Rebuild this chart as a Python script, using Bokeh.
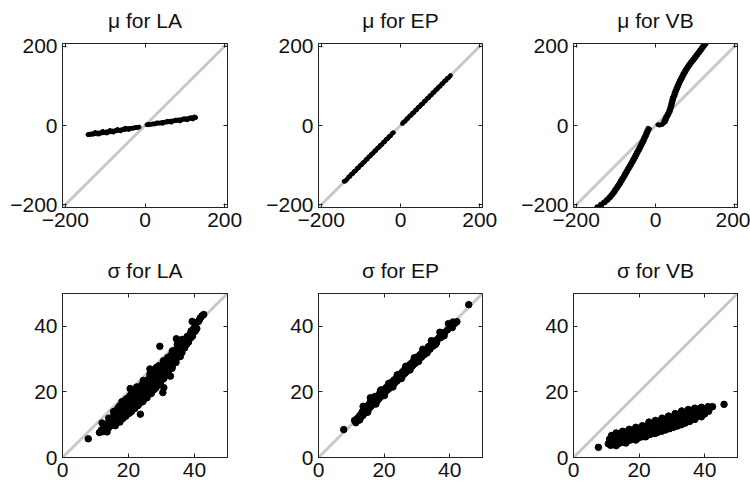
from bokeh.plotting import figure
from bokeh.layouts import gridplot
from bokeh.models import FixedTicker, LinearAxis, Range1d, Slope
from bokeh.embed import file_html
from bokeh.resources import INLINE

# ---- tick positions -------------------------------------------------------
mu_ticks = [-200, 0, 200]
sigma_ticks = [0, 20, 40]

# ---- mu, method LA: true mean vs. estimated mean --------------------------
mu_true_la = [-143, -140, -137, -133, -130, -126, -122, -118, -115, -111, -108, -104, -101, -97, -93, -90, -86,
              -82, -78, -75, -71, -67, -63, -59, -55, -51, -47, -43, -39, -35, -31, -27, -23, -19, -15,
              -125, -116, -106, -96, -88, -79, -69, -61, -50, -41,
              5, 8, 12, 16, 20, 24, 28, 33, 37, 41, 45, 49, 53, 57, 61, 65, 69, 73, 77, 81, 85, 89, 93, 97,
              101, 105, 109, 113, 117, 121, 125, 127,
              30, 44, 56, 66, 78, 88, 98, 106, 114, 120, 124]
mu_est_la = [-23, -22, -23, -21, -22, -20, -21, -19, -20, -18, -19, -17, -18, -16, -17, -15, -16,
             -14, -15, -13, -13, -12, -12, -11, -10, -10, -9, -8, -8, -7, -7, -6, -5, -5, -4,
             -17.5, -21.5, -15, -19, -12.5, -16.5, -10, -13.5, -7, -10,
             2, 2, 3, 3, 4, 4, 5, 6, 6, 7, 8, 8, 9, 9, 10, 11, 11, 12, 13, 13, 14, 14, 15, 16,
             16, 17, 17, 18, 19, 19, 20, 20,
             6.5, 5.5, 10.5, 8.5, 13.5, 11.5, 17, 14.5, 19.5, 16.5, 21.5]

# ---- mu, method EP ---------------------------------------------------------
mu_true_ep = [-142, -139, -135, -131, -128, -124, -120, -117, -113, -109, -106, -102, -98, -95, -91, -87, -84,
              -80, -76, -73, -69, -65, -62, -58, -54, -51, -47, -43, -40, -36, -32, -29, -25, -21, -18,
              5, 8, 12, 16, 19, 23, 27, 30, 34, 38, 41, 45, 49, 52, 56, 60, 63, 67, 71, 74, 78, 82, 85, 89,
              93, 96, 100, 104, 107, 111, 115, 118, 122, 126]
mu_est_ep = [-141, -140, -136, -130, -129, -123, -121, -116, -114, -108, -107, -101, -99, -94, -92, -86, -85,
             -79, -77, -72, -70, -64, -63, -57, -55, -50, -48, -42, -41, -35, -33, -28, -26, -20, -18,
             5, 9, 11, 17, 18, 24, 26, 31, 33, 39, 40, 46, 48, 53, 55, 61, 62, 68, 70, 75, 77, 83, 84, 90,
             92, 97, 99, 105, 106, 112, 114, 119, 121, 126]

# ---- mu, method VB ---------------------------------------------------------
mu_true_vb = [-148, -144, -139, -135, -131, -127, -124, -120, -118, -114, -113, -109, -108, -104, -104, -100,
              -100, -96, -96, -92, -92, -88, -88.5, -84.5, -85, -81, -81, -77, -78, -74, -74.5, -70.5,
              -71, -67, -67.5, -63.5, -64, -60, -60.5, -56.5, -57.5, -53.5, -54, -50, -51, -47, -48, -44,
              -44.5, -40.5, -41.5, -37.5, -38.5, -34.5, -35.5, -31.5, -32.5, -28.5, -30, -26, -27, -23,
              -24.5, -20.5, -22, -18, -19, -15,
              6, 10, 14, 18, 21,
              21, 25, 23.5, 27.5, 26, 30, 29.5, 33.5, 32.5, 36.5, 34.5, 38.5, 36.5, 40.5, 38, 42, 39.5, 43.5,
              41, 45, 42.5, 46.5, 45.5, 49.5, 47, 51, 49.5, 53.5, 52, 56, 54.5, 58.5, 57, 61, 60, 64,
              63, 67, 66, 70, 69, 73, 72.5, 76.5, 76, 80, 80, 84, 84, 88, 88.5, 92.5, 93.5, 97.5,
              98, 102, 102.5, 106.5, 107, 111, 111.5, 115.5, 116, 120, 120, 124, 124, 128]
mu_est_vb = [-205, -207, -199, -201, -193, -195, -187, -189, -181, -183, -175, -177, -169, -171, -163, -165,
             -157, -159, -151, -153, -145, -147, -139, -141, -133, -135, -127, -129, -121, -123, -115, -117,
             -109, -111, -103, -105, -97, -99, -91, -93, -85, -87, -79, -81, -73, -75, -67, -69, -61, -63,
             -55, -57, -49, -51, -43, -45, -37, -39, -31, -33, -25, -27, -19, -21, -13, -15, -7, -9,
             2, 1, 2, 3, 7,
             11, 9, 17, 15, 23, 21, 29, 27, 35, 33, 41, 39, 47, 45, 53, 51, 59, 57, 65, 63, 71, 69,
             77, 75, 83, 81, 89, 87, 95, 93, 101, 99, 107, 105, 113, 111, 119, 117, 125, 123, 131, 129,
             137, 135, 143, 141, 149, 147, 155, 153, 161, 159, 167, 165, 173, 171, 179, 177, 185, 183,
             191, 189, 197, 195, 203, 201, 208, 206]

# ---- sigma, method LA: true spread vs. estimated spread -------------------
sigma_true_la = [11.2, 11.8, 12.3, 12.6, 13.1, 13.4, 13.9, 14.2, 14.5, 14.8, 15.1, 15.3, 15.6, 15.9, 16.2,
                 16.4, 16.7, 16.9, 17.2, 17.4, 17.6, 17.9, 18.1, 18.3, 18.6, 18.8, 19.0, 19.2, 19.5, 19.7,
                 19.9, 20.1, 20.3, 20.5, 20.8, 21.0, 21.2, 21.4, 21.7, 21.9, 22.1, 22.3, 22.6, 22.8, 23.0,
                 23.3, 23.5, 23.7, 24.0, 24.2, 24.5, 24.7, 24.9, 25.2, 25.4, 25.6, 25.9, 26.1, 26.4, 26.6,
                 26.8, 27.1, 27.3, 27.6, 27.8, 28.0, 28.3, 28.6, 28.8, 29.1, 29.4, 29.7, 29.9, 30.2, 30.5,
                 30.8, 31.1, 31.4, 31.7, 32.0, 32.3, 32.6, 32.9, 33.2, 33.5, 33.8, 34.1, 34.4, 34.7, 35.0,
                 35.3, 35.7, 36.0, 36.3, 36.7, 37.0, 37.4, 37.8, 38.2, 38.6, 39.0, 39.4, 39.8, 40.3, 40.7,
                 41.2, 41.8, 42.3, 42.8,
                 7.8, 29.5, 32.7, 30.7, 30.4, 23.6, 39.3, 41.5, 34.5, 26.5, 20.5, 12.0, 13.5, 16.0,
                 17.0, 18.0, 19.0, 20.0, 21.0, 22.0, 23.0, 24.0, 25.0, 26.0, 18.5, 20.5, 22.5, 24.5, 26.5, 28.5,
                 14.0, 14.0, 15.5, 15.5, 15.5, 16.8, 16.8, 16.8, 18.0, 18.0, 18.0, 18.0,
                 19.3, 19.3, 19.3, 19.3, 20.6, 20.6, 20.6, 20.6, 21.8, 21.8, 21.8, 21.8,
                 23.1, 23.1, 23.1, 23.1, 24.3, 24.3, 24.3, 24.3, 25.6, 25.6, 25.6, 25.6,
                 26.9, 26.9, 26.9, 26.9, 28.1, 28.1, 28.1, 28.1, 29.3, 29.3, 29.3, 29.3,
                 30.6, 30.6, 30.6, 30.6, 31.9, 31.9, 31.9, 33.3, 33.3, 33.3, 34.8, 34.8, 34.8,
                 36.2, 36.2, 36.2, 37.6, 37.6, 38.9, 38.9, 40.2, 40.2]
sigma_est_la = [7.6, 8.4, 7.9, 9.1, 8.3, 10.2, 9.0, 11.1, 9.6, 12.0, 10.3, 11.5, 13.0, 10.1, 12.4,
                14.3, 11.2, 13.5, 15.6, 10.8, 12.6, 14.6, 16.4, 11.9, 13.8, 15.5, 17.4, 12.6, 14.5, 16.6,
                18.2, 13.4, 15.3, 17.3, 19.1, 14.2, 16.1, 18.0, 19.9, 15.0, 17.0, 18.8, 20.6, 15.8, 17.8,
                19.7, 21.6, 16.9, 18.6, 20.5, 22.4, 17.7, 19.5, 21.3, 23.3, 18.6, 20.4, 22.3, 24.4, 19.6,
                21.4, 23.2, 25.3, 20.6, 22.4, 24.2, 26.1, 21.7, 23.5, 25.4, 27.4, 22.9, 24.8, 26.6, 28.6,
                24.3, 26.1, 28.0, 29.8, 25.6, 27.5, 29.4, 31.2, 27.2, 29.1, 31.0, 32.6, 29.0, 30.9, 32.8,
                34.3, 30.8, 32.7, 34.6, 35.9, 33.4, 35.3, 36.9, 35.2, 37.4, 38.6, 37.0, 39.4, 40.6, 39.3,
                41.5, 42.6, 43.2, 43.6,
                5.7, 33.9, 24.8, 21.3, 19.8, 13.2, 41.5, 42.0, 36.2, 27.0, 21.0, 10.5, 7.8, 9.7,
                12.0, 13.0, 15.5, 16.0, 17.5, 19.5, 20.5, 21.5, 22.0, 23.5, 17.0, 18.5, 21.5, 23.5, 25.5, 27.5,
                10.5, 12.0, 11.0, 12.5, 14.0, 11.5, 13.0, 15.0, 12.0, 14.0, 15.5, 17.0,
                13.0, 14.8, 16.2, 17.8, 13.8, 15.8, 17.0, 19.0, 15.0, 16.8, 18.5, 20.0,
                16.2, 17.5, 19.0, 21.0, 17.0, 19.0, 20.0, 22.5, 18.2, 19.8, 21.8, 23.0,
                19.5, 21.0, 22.8, 24.8, 21.0, 22.8, 25.0, 26.5, 22.5, 24.0, 26.0, 28.0,
                24.0, 25.5, 27.8, 29.5, 26.0, 28.5, 30.5, 28.0, 30.0, 32.5, 30.5, 33.0, 34.5,
                32.0, 34.0, 36.0, 34.5, 36.0, 36.5, 38.0, 38.5, 41.0]

# ---- sigma, method EP ------------------------------------------------------
sigma_true_ep = [7.7, 11.0, 11.4, 11.8, 12.2, 12.6, 12.9, 13.3, 13.6, 14.0, 14.3, 14.6, 14.9, 15.2, 15.5,
                 15.8, 16.1, 16.4, 16.7, 17.0, 17.3, 17.6, 17.9, 18.2, 18.5, 18.8, 19.1, 19.4, 19.7, 20.0,
                 20.3, 20.6, 20.9, 21.2, 21.5, 21.8, 22.1, 22.4, 22.7, 23.0, 23.3, 23.6, 23.9, 24.2, 24.5,
                 24.8, 25.1, 25.4, 25.7, 26.0, 26.3, 26.6, 26.9, 27.2, 27.5, 27.8, 28.1, 28.4, 28.7, 29.0,
                 29.3, 29.6, 29.9, 30.2, 30.6, 31.0, 31.4, 31.8, 32.2, 32.6, 33.0, 33.5, 34.0, 34.5, 35.0,
                 35.5, 36.0, 36.6, 37.2, 37.8, 38.5, 39.3, 40.2, 41.0, 41.6, 42.2, 45.8,
                 15.8, 13.6, 17.2, 19.0,
                 12.5, 13.8, 15.0, 16.3, 17.5, 18.8, 20.1, 21.4, 22.7, 24.0, 25.3, 26.6, 27.9, 29.2,
                 30.5, 31.8, 33.1, 34.4, 35.7, 37.0, 38.3, 39.6, 40.8]
sigma_est_ep = [8.5, 11.3, 10.6, 11.9, 11.5, 12.8, 12.2, 13.9, 12.9, 14.6, 13.8, 15.6, 14.4, 15.9, 15.0,
                17.0, 15.7, 16.9, 16.3, 17.6, 16.8, 18.2, 17.3, 18.9, 18.0, 19.4, 18.6, 20.3, 19.3, 20.8,
                19.9, 21.3, 20.5, 21.9, 21.0, 22.4, 21.6, 23.0, 22.1, 23.6, 22.8, 24.1, 23.3, 24.8, 23.9,
                25.3, 24.5, 25.9, 25.1, 26.5, 25.6, 27.1, 26.2, 27.6, 26.8, 28.3, 27.4, 28.8, 28.0, 29.5,
                28.6, 30.0, 29.1, 30.7, 29.8, 31.4, 30.6, 32.2, 31.3, 32.9, 32.2, 33.8, 33.0, 34.7, 34.0,
                35.6, 35.0, 36.4, 36.5, 37.6, 38.2, 38.9, 40.0, 41.3, 40.9, 41.4, 46.6,
                18.2, 15.6, 18.6, 20.6,
                11.4, 15.0, 13.8, 17.5, 16.3, 20.0, 18.9, 22.6, 21.5, 25.2, 24.1, 27.8, 26.7, 30.4,
                29.3, 33.0, 31.9, 35.6, 34.5, 38.2, 37.1, 40.8, 39.6]

# ---- sigma, method VB ------------------------------------------------------
sigma_true_vb = [7.6, 10.6, 11.0, 11.3, 11.6, 11.9, 12.2, 12.5, 12.8, 13.1, 13.4, 13.7, 14.0, 14.3, 14.6,
                 14.9, 15.2, 15.5, 15.8, 16.1, 16.4, 16.7, 17.0, 17.3, 17.6, 17.9, 18.2, 18.5, 18.8, 19.1,
                 19.4, 19.7, 20.0, 20.3, 20.6, 20.9, 21.2, 21.5, 21.8, 22.1, 22.4, 22.7, 23.0, 23.3, 23.6,
                 23.9, 24.2, 24.5, 24.8, 25.1, 25.4, 25.7, 26.0, 26.3, 26.6, 26.9, 27.2, 27.5, 27.8, 28.1,
                 28.4, 28.7, 29.0, 29.3, 29.6, 29.9, 30.2, 30.5, 30.8, 31.1, 31.4, 31.7, 32.0, 32.3, 32.6,
                 32.9, 33.2, 33.5, 33.8, 34.1, 34.4, 34.7, 35.0, 35.4, 35.8, 36.2, 36.6, 37.0, 37.5, 38.0,
                 38.5, 39.0, 39.5, 40.0, 40.6, 41.2, 41.8, 42.4, 45.9,
                 33.0, 35.0, 31.0, 29.0, 27.0, 37.0, 39.0, 25.0, 23.0,
                 13.0, 15.0, 17.0, 19.0, 21.0, 23.0, 25.0, 27.0, 29.0, 31.0, 33.0, 35.0, 37.0, 39.0, 41.0,
                 13.0, 16.0, 19.0, 22.0, 25.0, 30.0, 35.0, 40.0]
sigma_est_vb = [3.1, 4.2, 5.6, 3.7, 6.7, 4.6, 5.8, 3.9, 7.0, 5.0, 6.2, 4.2, 7.3, 5.4, 6.5,
                4.6, 7.5, 5.7, 6.8, 4.9, 7.9, 6.0, 7.0, 5.3, 8.2, 6.3, 7.4, 5.6, 8.6, 6.7,
                7.7, 5.9, 8.9, 7.0, 8.1, 6.3, 9.3, 7.4, 8.4, 6.6, 9.6, 7.7, 8.8, 7.0, 10.0,
                8.1, 9.1, 7.3, 10.3, 8.4, 9.5, 7.7, 10.6, 8.8, 9.8, 8.0, 11.0, 9.1, 10.2, 8.4,
                11.3, 9.5, 10.5, 8.8, 11.7, 9.8, 10.9, 9.2, 12.1, 10.2, 11.3, 9.6, 12.5, 10.6, 11.7,
                10.0, 12.9, 11.0, 12.1, 10.5, 13.4, 11.5, 12.6, 11.0, 13.7, 12.0, 13.1, 11.6, 14.0, 12.6,
                13.6, 12.4, 14.4, 13.3, 14.8, 14.1, 15.3, 15.5, 16.2,
                14.0, 14.5, 13.2, 12.6, 12.0, 15.0, 15.2, 11.3, 10.8,
                7.5, 8.0, 8.6, 9.2, 9.7, 10.3, 11.0, 11.8, 12.6, 13.4, 14.2, 14.6, 15.0, 15.3, 15.5,
                3.6, 4.4, 5.3, 6.3, 7.4, 9.3, 11.3, 13.4]

FONT = "Liberation Sans"
INK = "#222222"
DIAG = "#c8c8c8"


def style_axis(ax, ticks, labels=True):
    ax.ticker = FixedTicker(ticks=ticks)
    ax.minor_tick_line_color = None
    ax.major_tick_in = 4
    ax.major_tick_out = 0
    ax.major_tick_line_color = INK
    ax.axis_line_color = INK
    ax.major_label_text_font = FONT
    ax.major_label_text_color = "#111111"
    if labels:
        ax.major_label_overrides = {t: (("\u2212" + str(-t)) if t < 0 else str(t)) for t in ticks}
        ax.major_label_text_font_size = "21px"
        ax.major_label_standoff = 5
    else:
        # tick marks only on the top and right edges of the box
        ax.major_label_overrides = {t: "" for t in ticks}
        ax.major_label_standoff = 0


def panel(title, xs, ys, lo, hi, ticks, size, left, right, top, bottom, height):
    p = figure(width=250, height=height, output_backend="svg", toolbar_location=None,
               x_range=Range1d(lo, hi), y_range=Range1d(lo, hi),
               min_border_left=left, min_border_right=right,
               min_border_top=top, min_border_bottom=bottom)
    p.grid.visible = False
    p.outline_line_color = INK
    p.outline_line_width = 1
    p.background_fill_color = "white"
    p.border_fill_color = "white"
    style_axis(p.xaxis[0], ticks)
    style_axis(p.yaxis[0], ticks)
    right_ax = LinearAxis()
    style_axis(right_ax, ticks, labels=False)
    p.add_layout(right_ax, "right")
    # the top edge carries the panel heading as its axis label
    top_ax = LinearAxis(axis_label=title)
    style_axis(top_ax, ticks, labels=False)
    top_ax.axis_label_text_font = FONT
    top_ax.axis_label_text_font_size = "21px"
    top_ax.axis_label_text_font_style = "normal"
    top_ax.axis_label_text_color = "#111111"
    top_ax.axis_label_standoff = 12
    p.add_layout(top_ax, "above")
    diag = Slope(gradient=1, y_intercept=0, line_color=DIAG, line_width=3, level="underlay")
    p.add_layout(diag)
    p.scatter(xs, ys, size=size, fill_color="black", line_color="black")
    return p


cols = [(62, 23), (68, 18), (73, 13)]
MU = 207

p1 = panel("\u03bc for LA", mu_true_la, mu_est_la, -MU, MU, mu_ticks, 4, *cols[0], 43, 43, 250)
p2 = panel("\u03bc for EP", mu_true_ep, mu_est_ep, -MU, MU, mu_ticks, 4, *cols[1], 43, 43, 250)
p3 = panel("\u03bc for VB", mu_true_vb, mu_est_vb, -MU, MU, mu_ticks, 4, *cols[2], 43, 43, 250)
p4 = panel("\u03c3 for LA", sigma_true_la, sigma_est_la, 0, 50, sigma_ticks, 6.5, *cols[0], 43, 29, 236)
p5 = panel("\u03c3 for EP", sigma_true_ep, sigma_est_ep, 0, 50, sigma_ticks, 6.5, *cols[1], 43, 29, 236)
p6 = panel("\u03c3 for VB", sigma_true_vb, sigma_est_vb, 0, 50, sigma_ticks, 6.5, *cols[2], 43, 29, 236)

grid = gridplot([[p1, p2, p3], [p4, p5, p6]], toolbar_location=None)

with open("out.html", "w") as f:
    f.write(file_html(grid, INLINE))
